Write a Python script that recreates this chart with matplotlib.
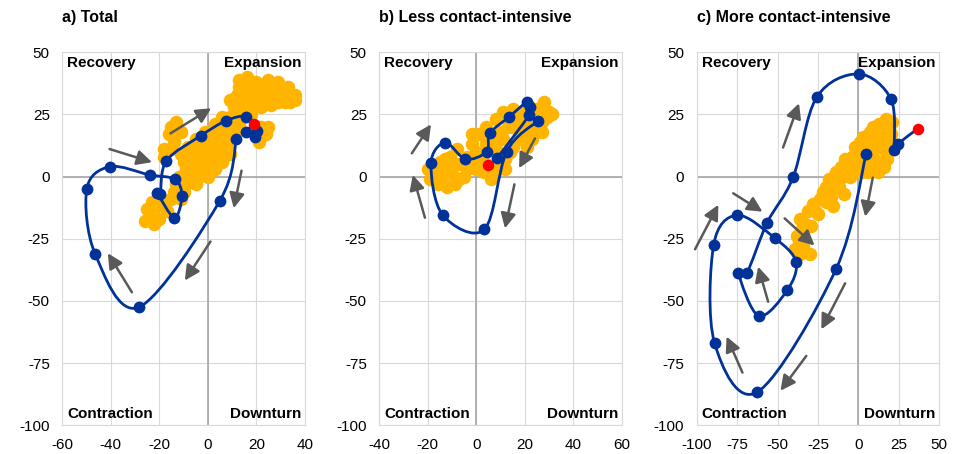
import matplotlib.pyplot as plt
from matplotlib.path import Path
from matplotlib.patches import PathPatch

plt.rcParams['font.family'] = ['Liberation Sans', 'DejaVu Sans']
plt.rcParams['axes.unicode_minus'] = False

# ---- panel a) Total ----
a_line_x = [11.8, 4.9, -28.4, -46.4, -49.9, -40.4, -24.0, -13.6, -10.7, -13.8, -20.9, -19.6,
            -17.1, -2.8, 7.6, 15.9, 20.3, 19.3, 15.9, 18.9]
a_line_y = [15.0, -9.8, -52.5, -31.2, -5.0, 4.0, 0.7, -1.1, -7.8, -16.5, -6.4, -7.1,
            6.3, 16.5, 22.5, 24.1, 18.4, 16.1, 18.1, 21.0]
a_hist_x = [13, 16, 20, 25, 29, 33, 36, 36, 32, 28, 24, 20, 16, 13, 16, 20, 12, 9, 11, 14,
            18, 22, 26, 29, 32, 27, 23, 24, 21, 22, 25, 30, 34, 18,
            6, 9, 12, 13, 3, 7, 10, 13, -1, 3, 7, 11, -5, -1, 3, 7, -8, -4, 0, 4, 8,
            -11, -7, -3, 1, 5, 9, -10, -6, -2, 2, 6, -9, -5, -1, 3, -12, -8, -4, 0,
            -13, -9, -5, -14, -10,
            -13, -15, -11, -16, -14, -18, -15, -18,
            -23, -19, -15, -11, -21, -25, -17, -24, -20, -26, -22]
a_hist_y = [39, 40, 38, 39, 38, 36, 33, 31, 30, 32, 33, 35, 36, 36, 32, 31, 33, 31, 28, 28,
            28, 28, 29, 30, 34, 36, 36, 17, 14, 20, 20, 34, 30, 25,
            24, 24, 23, 25, 21, 21, 20, 21, 18, 18, 18, 18, 15, 15, 15, 15, 12, 12, 12, 12, 12,
            9, 9, 9, 9, 9, 9, 6, 6, 6, 6, 6, 3, 3, 3, 3, 0, 0, 0, 0,
            -3, -3, -3, -6, -6,
            22, 20, 18, 17, 14, 11, 11, 8,
            -10, -10, -9, -9, -12, -13, -14, -16, -17, -18, -19]
a_arrows = [((-40.5, 11.1), (-23.0, 5.8)), ((-15.4, 17.4), (1.4, 27.5)),
            ((13.9, 2.4), (10.7, -12.7)), ((1.1, -26.1), (-9.5, -41.8)),
            ((-31.3, -46.5), (-41.2, -30.8))]

# ---- panel b) Less contact-intensive ----
b_line_x = [25.5, 12.5, 3.3, -13.9, -18.7, -12.9, -4.5, 4.2, 5.6, 13.6, 21.0, 22.1, 21.8, 8.4, 4.9]
b_line_y = [22.5, 10.0, -21.2, -15.4, 5.3, 13.7, 7.1, 10.0, 17.4, 24.1, 30.1, 28.1, 24.8, 7.4, 4.7]
b_hist_x = [30, 28, 27, 27, 25, 23, 22, 18, 15, 12, 12, 6, 6, 9, 4, 2, -1, -4, -7, -10,
            -14, -16, -15, -11, -8, -2, -2, 1, 4, 8, 11, 15, 17, 20, 11, 8, 15, 18, -19, -12,
            -9, -13, -17, -11, -7, -4, 0, 4, 7, 10, 13, 16, 19, 22, -20, -5, 0, 3, -3, 25,
            29, 21, 14, -16, -9, 31]
b_hist_y = [26, 30, 22, 18, 20, 15, 17, 15, 12, 7, 3, 0, -1, 3, 5, 8, 7, 3, -1, 1,
            0, 3, 6, 8, 11, 13, 17, 17, 20, 23, 26, 27, 25, 22, 15, 11, 20, 19, -1, -4,
            -3, 7, 0, 4, 5, 8, 10, 13, 16, 18, 20, 23, 26, 28, 3, 0, 3, 2, 6, 27,
            24, 12, 10, -3, -2, 25]
b_arrows = [((-26.6, 9.4), (-18.7, 21.0)), ((-21.2, -16.5), (-26.2, 0.7)),
            ((24.2, 15.4), (17.6, 3.4)), ((15.7, -3.1), (11.8, -20.8))]

# ---- panel c) More contact-intensive ----
c_line_x = [4.8, -13.7, -62.4, -88.9, -89.5, -75.1, -51.7, -38.6, -43.9, -61.6, -74.3, -68.9,
            -56.4, -40.4, -25.8, 0.1, 20.2, 22.3, 24.3, 36.6]
c_line_y = [9.1, -37.0, -86.6, -67.0, -27.5, -15.5, -24.7, -34.2, -45.6, -56.0, -38.6, -38.6,
            -18.5, -0.3, 31.9, 41.3, 31.1, 10.7, 13.1, 19.2]
c_hist_x = [17, 13, 19, 9, 7, 11, 15, 20, 3, 1, 6, 10, 14, 17, 18, -2, 2, 6, 9, 13,
            12, 9, 4, 0, -4, -8, -6, -2, 2, 6, -11, -14, -10, -5, -18, -14, -20, -16, -12, -22,
            -17, -16, -24, -20, -28, -31, -27, -36, -33, -29, -35, -38, -37, -34, -39, -30, -36,
            21, 16, 12, -9, -25, 20]
c_hist_y = [23, 21, 19, 20, 18, 17, 16, 14, 16, 14, 14, 13, 12, 10, 7, 12, 10, 10, 8, 6,
            3, 4, 5, 5, 8, 7, 3, 2, 2, 2, 4, 2, 0, 0, -1, -2, -4, -5, -4, -6,
            -8, -12, -9, -10, -11, -14, -14, -17, -19, -20, -21, -24, -26, -28, -29, -31, -31,
            22, 4, 2, -7, -15, 17]
c_arrows = [((-101, -29.2), (-86.6, -11.3)), ((-77.4, -6.7), (-59.3, -14.1)),
            ((-46.6, 11.7), (-36.7, 29.5)), ((-45.6, -16.8), (-27.1, -27.7)),
            ((-55.8, -50.3), (-62.0, -36.2)), ((8.9, -0.4), (4.2, -16.1)),
            ((-8.2, -42.9), (-22.9, -61.4)), ((-32.2, -72.1), (-48.2, -86.1)),
            ((-71.7, -78.8), (-81.5, -64.3))]

titles = ['a) Total', 'b) Less contact-intensive', 'c) More contact-intensive']
x_ticks = [[-60, -40, -20, 0, 20, 40], [-40, -20, 0, 20, 40, 60], [-100, -75, -50, -25, 0, 25, 50]]
y_ticks = [-100, -75, -50, -25, 0, 25, 50]

BLUE = '#003299'
YELLOW = '#FFB400'
RED = '#FF0000'
GREY = '#595959'


def smooth(xs, ys):
    # Excel-like smoothed line: cubic Bezier segments through each point
    pts = list(zip(xs, ys))
    n = len(pts)
    verts = [pts[0]]
    codes = [Path.MOVETO]
    for i in range(n - 1):
        p0 = pts[max(i - 1, 0)]
        p1 = pts[i]
        p2 = pts[i + 1]
        p3 = pts[min(i + 2, n - 1)]
        c1 = (p1[0] + (p2[0] - p0[0]) / 6, p1[1] + (p2[1] - p0[1]) / 6)
        c2 = (p2[0] - (p3[0] - p1[0]) / 6, p2[1] - (p3[1] - p1[1]) / 6)
        verts += [c1, c2, p2]
        codes += [Path.CURVE4] * 3
    return Path(verts, codes)


fig = plt.figure(figsize=(9.55, 4.54), dpi=100)
lefts = [0.0652, 0.3972, 0.7295]
panels = [(a_line_x, a_line_y, a_hist_x, a_hist_y, a_arrows),
          (b_line_x, b_line_y, b_hist_x, b_hist_y, b_arrows),
          (c_line_x, c_line_y, c_hist_x, c_hist_y, c_arrows)]

for k, (lx, ly, hx, hy, arrows) in enumerate(panels):
    ax = fig.add_axes([lefts[k], 0.0632, 0.2540, 0.8216])
    xt = x_ticks[k]
    ax.set_xlim(xt[0], xt[-1])
    ax.set_ylim(-100, 50)
    ax.set_xticks(xt)
    ax.set_yticks(y_ticks)
    ax.tick_params(length=0, pad=9, labelsize=11)
    ax.grid(True, color='#d9d9d9', lw=0.8)
    ax.set_axisbelow(True)
    for s in ax.spines.values():
        s.set_color('#d9d9d9')
        s.set_linewidth(0.8)
    ax.axhline(0, color='#a6a6a6', lw=1.2, zorder=1)
    ax.axvline(0, color='#a6a6a6', lw=1.2, zorder=1)

    ax.scatter(hx, hy, s=95, color=YELLOW, linewidths=0, zorder=2)
    ax.add_patch(PathPatch(smooth(lx, ly), fill=False, edgecolor=BLUE, lw=2.0, zorder=3))
    ax.plot(lx[:-1], ly[:-1], 'o', color=BLUE, ms=8.5, mew=0, zorder=4)
    ax.plot(lx[-1:], ly[-1:], 'o', color=RED, ms=8.3, mew=0, zorder=5)

    for tail, head in arrows:
        ax.annotate('', xy=head, xytext=tail, annotation_clip=False,
                    arrowprops=dict(arrowstyle='-|>,head_length=0.9,head_width=0.45',
                                    color=GREY, lw=1.8, shrinkA=0, shrinkB=0,
                                    mutation_scale=10), zorder=6)

    ax.text(0.02, 0.989, 'Recovery', transform=ax.transAxes, ha='left', va='top',
            fontsize=11, fontweight='bold', zorder=7)
    ax.text(0.985, 0.989, 'Expansion', transform=ax.transAxes, ha='right', va='top',
            fontsize=11, fontweight='bold', zorder=7)
    ax.text(0.02, 0.019, 'Contraction', transform=ax.transAxes, ha='left', va='baseline',
            fontsize=11, fontweight='bold', zorder=7)
    ax.text(0.985, 0.019, 'Downturn', transform=ax.transAxes, ha='right', va='baseline',
            fontsize=11, fontweight='bold', zorder=7)
    ax.set_title(titles[k], loc='left', fontsize=11.5, fontweight='bold', pad=22)

fig.savefig('out.png', dpi=100)
